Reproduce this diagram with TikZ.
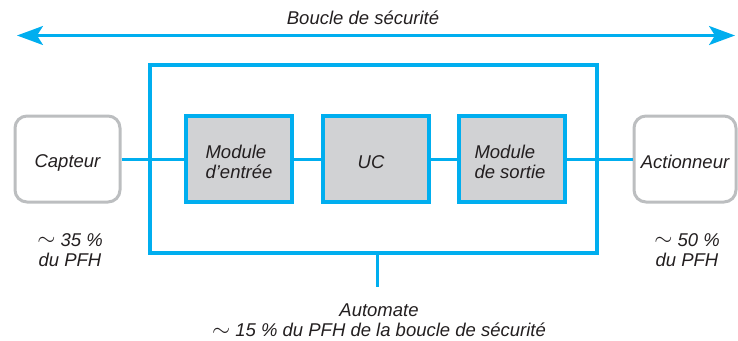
\documentclass[tikz,border=0pt]{standalone}
\usepackage{fontspec}
\usepackage{graphicx}
\setmainfont{Liberation Sans}
\usetikzlibrary{arrows.meta}
\definecolor{cyanb}{HTML}{00AEEF}
\definecolor{modfill}{HTML}{D1D2D4}
\definecolor{capdraw}{HTML}{BCBEC0}
\definecolor{txt}{HTML}{231F20}
\newcommand{\tld}{\raisebox{0.5pt}{\scalebox{1.35}[1.3]{$\sim$}}}
\newcommand{\lowstrut}{\rule{0pt}{20pt}}
\tikzset{
  lbl/.style={font=\fontsize{18.5}{20}\selectfont\itshape, text=txt, align=center, inner sep=0pt},
  modbox/.style={lbl, draw=cyanb, line width=3.2pt, fill=modfill, minimum width=106pt, minimum height=86pt},
  devbox/.style={lbl, draw=capdraw, line width=3pt, rounded corners=12pt, fill=white, minimum height=86pt},
  autobox/.style={draw=cyanb, line width=3.2pt, minimum width=447pt, minimum height=188pt, inner sep=0pt},
  link/.style={draw=cyanb, line width=3pt},
}
\begin{document}
\begin{tikzpicture}[x=1pt,y=-1pt]
\useasboundingbox (0,0) rectangle (738,340);
% safety loop arrow
\coordinate (al) at (17,35.5);
\coordinate (ar) at (735,35.5);
\draw[cyanb, line width=2.6pt, {Stealth[length=26pt,width=19pt,inset=6pt]}-{Stealth[length=26pt,width=19pt,inset=6pt]}] (al) -- (ar);
\node[lbl] (loop) at (363,18) {Boucle de sécurité};
% automate frame
\node[autobox] (auto) at (373.5,159) {};
\coordinate (autobot) at (377,287);
\draw[link] (377,253) -- (autobot);
% boxes
\node[devbox, minimum width=105pt] (cap) at (67.5,159) {\lowstrut Capteur};
\node[modbox, align=left] (ent) at (239,159) {\lowstrut Module\\d’entrée};
\node[modbox] (uc) at (376,159) {\lowstrut UC\hspace*{10pt}};
\node[modbox, align=left] (sor) at (512,159) {\lowstrut Module\\de sortie\hspace*{4pt}};
\node[devbox, minimum width=102pt] (act) at (685,159) {\lowstrut Actionneur};
% connectors
\draw[link] (cap.east) -- (ent.west);
\draw[link] (ent.east) -- (uc.west);
\draw[link] (uc.east) -- (sor.west);
\draw[link] (sor.east) -- (act.west);
% labels
\node[lbl] (pcap) at (70,250) {\tld\ 35 \%\\du PFH};
\node[lbl] (pact) at (687,250) {\tld\ 50 \%\\du PFH};
\node[lbl] (pauto) at (379,320.5) {Automate\\\tld\ 15 \% du PFH de la boucle de sécurité};
\end{tikzpicture}
\end{document}
